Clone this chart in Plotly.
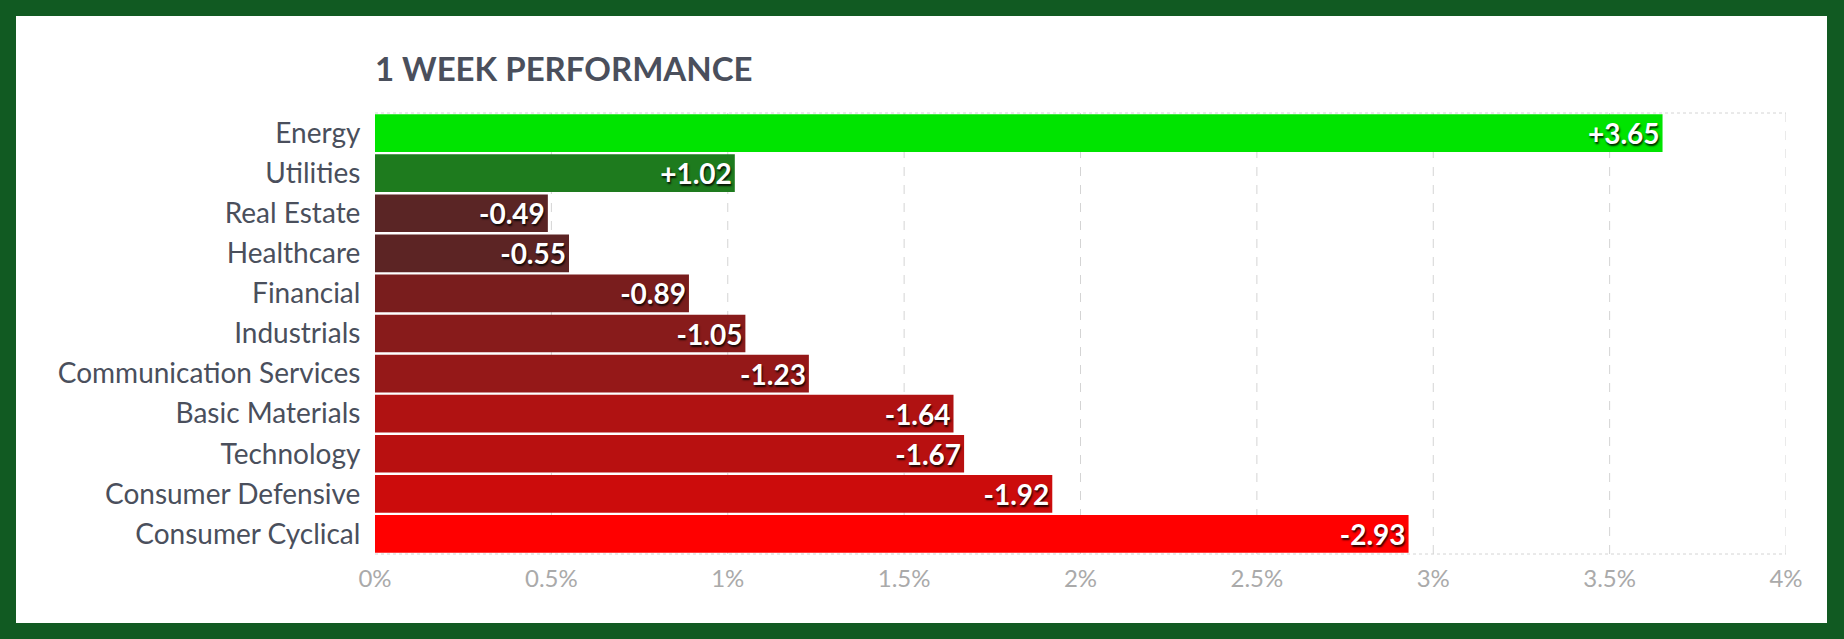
import plotly.graph_objects as go

sectors = ["Energy", "Utilities", "Real Estate", "Healthcare", "Financial", "Industrials",
           "Communication Services", "Basic Materials", "Technology", "Consumer Defensive",
           "Consumer Cyclical"]
changes = [3.65, 1.02, -0.49, -0.55, -0.89, -1.05, -1.23, -1.64, -1.67, -1.92, -2.93]
colors = ["#00e400", "#1e7b1e", "#5a2525", "#5c2424", "#791d1d", "#881b1b",
          "#951818", "#b01212", "#b81010", "#cc0c0c", "#ff0000"]
x_ticks = [0, 0.5, 1, 1.5, 2, 2.5, 3, 3.5, 4]
x_tick_text = ["0%", "0.5%", "1%", "1.5%", "2%", "2.5%", "3%", "3.5%", "4%"]

W, H = 1844, 639
labels = [("+%.2f" % v) if v > 0 else ("%.2f" % v) for v in changes]

fig = go.Figure(go.Bar(
    x=[abs(v) for v in changes],
    y=sectors,
    orientation="h",
    marker=dict(color=colors, line=dict(width=0)),
    text=labels,
    textposition="inside",
    insidetextanchor="end",
    textangle=0,
    constraintext="none",
    textfont=dict(family="Lato", size=28, color="white", weight="bold",
                  shadow="1px 2px 2px rgba(0,0,0,0.85)"),
    hoverinfo="skip",
))

fig.update_layout(
    width=W, height=H,
    margin=dict(l=375, r=58, t=113, b=85, autoexpand=False),
    paper_bgcolor="#115a22",
    plot_bgcolor="white",
    bargap=0.06,
    showlegend=False,
    uniformtext=dict(mode=False),
    title=dict(text="<b>1 WEEK PERFORMANCE</b>", xref="paper", x=0, xanchor="left",
               yref="container", y=1 - 69 / H, yanchor="middle",
               font=dict(family="Lato", size=33, color="#4a4f5c")),
    xaxis=dict(range=[0, 4], tickvals=x_ticks, ticktext=x_tick_text,
               showgrid=False, zeroline=False, showline=False,
               tickfont=dict(family="Lato", size=24, color="#aaaaaa"),
               ticks="outside", ticklen=3, tickcolor="rgba(0,0,0,0)", fixedrange=True),
    yaxis=dict(categoryorder="array", categoryarray=sectors, autorange="reversed",
               showgrid=False, zeroline=False, showline=False,
               tickfont=dict(family="Lato", size=28, color="#4a4f5c"),
               ticks="outside", ticklen=8, tickcolor="rgba(0,0,0,0)", fixedrange=True),
)

shapes = [
    dict(type="rect", xref="paper", yref="paper",
         x0=-(375 - 16) / (W - 375 - 58), x1=1 + (58 - 17) / (W - 375 - 58),
         y0=-(85 - 16) / (H - 113 - 85), y1=1 + (113 - 16) / (H - 113 - 85),
         fillcolor="white", line=dict(width=0), layer="below"),
]
for t in x_ticks[1:]:
    shapes.append(dict(type="line", xref="x", yref="paper", x0=t, x1=t, y0=0, y1=1,
                       line=dict(color="#d4d4d4", width=1, dash="dash"), layer="below"))
for yy in (0, 1):
    shapes.append(dict(type="line", xref="paper", yref="paper", x0=0, x1=1, y0=yy, y1=yy,
                       line=dict(color="#d4d4d4", width=1, dash="dot"), layer="below"))
fig.update_layout(shapes=shapes)

fig.write_html("out.html")
